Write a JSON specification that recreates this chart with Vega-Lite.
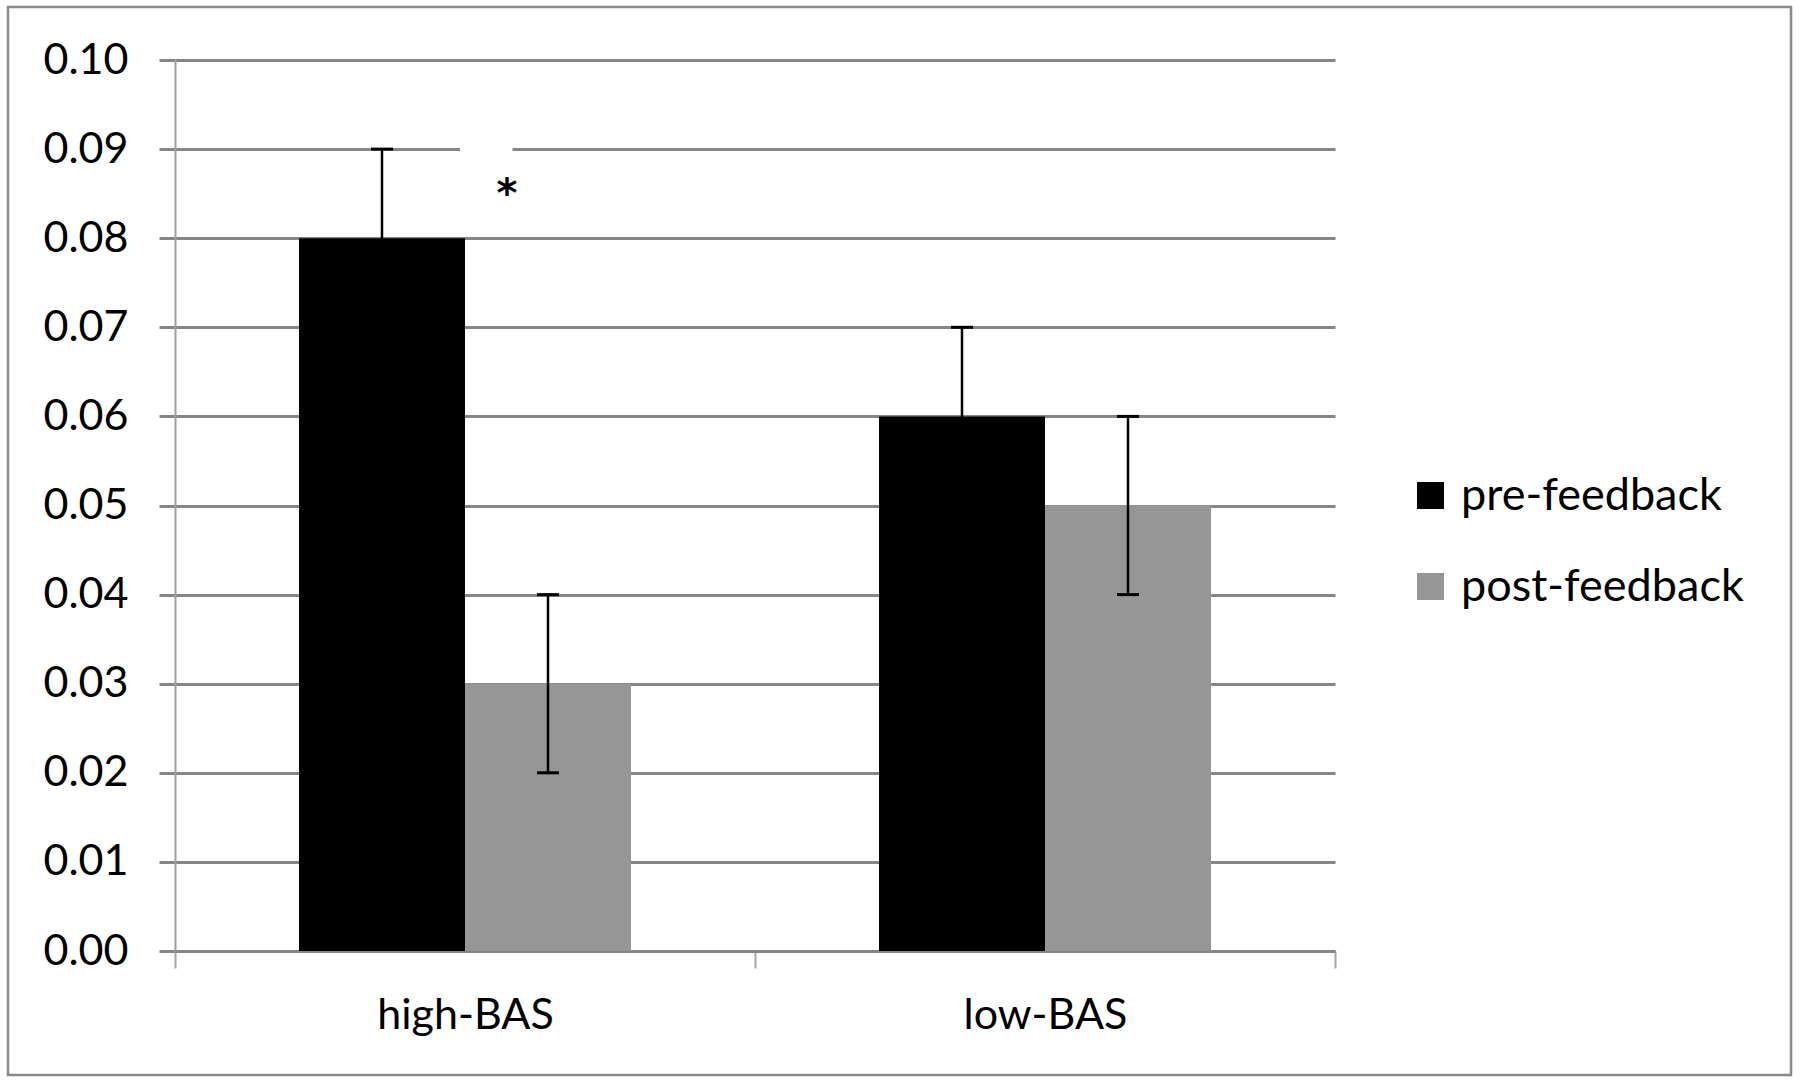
{
  "$schema": "https://vega.github.io/schema/vega-lite/v6.json",
  "width": 1783,
  "height": 1068,
  "autosize": {"type": "none"},
  "padding": {"left": 8, "top": 7, "right": 9, "bottom": 8},
  "background": "#ffffff",
  "datasets": {
    "bars": [
      {"group": "high-BAS", "phase": "pre-feedback", "mean": 0.08, "lo": 0.07, "hi": 0.09},
      {"group": "high-BAS", "phase": "post-feedback", "mean": 0.03, "lo": 0.02, "hi": 0.04},
      {"group": "low-BAS", "phase": "pre-feedback", "mean": 0.06, "lo": 0.05, "hi": 0.07},
      {"group": "low-BAS", "phase": "post-feedback", "mean": 0.05, "lo": 0.04, "hi": 0.06}
    ],
    "marks": [
      {"group": "high-BAS", "label": "*", "gridline": 0.09, "pos": 0.0835}
    ]
  },
  "layer": [
    {
      "data": {"name": "bars"},
      "mark": {"type": "bar", "stroke": null},
      "encoding": {
        "x": {"field": "group", "type": "nominal", "sort": ["high-BAS", "low-BAS"]},
        "xOffset": {"field": "phase", "type": "nominal", "scale": {"domain": ["pre-feedback", "post-feedback"], "paddingInner": 0, "paddingOuter": 0.747}},
        "y": {"field": "mean", "type": "quantitative"},
        "color": {
          "field": "phase", "type": "nominal",
          "scale": {"domain": ["pre-feedback", "post-feedback"], "range": ["#000000", "#969696"]},
          "legend": {
            "title": null, "orient": "none", "legendX": 1400, "legendY": 466, "padding": 0,
            "symbolType": "square", "symbolSize": 729, "symbolStrokeWidth": 0,
            "labelFont": "Lato", "labelFontSize": 45, "labelColor": "#000000", "labelLimit": 600,
            "labelOffset": 8, "rowPadding": 45
          }
        }
      }
    },
    {
      "data": {"name": "bars"},
      "mark": {"type": "rule", "color": "#000000", "strokeWidth": 2.5},
      "encoding": {
        "x": {"field": "group", "type": "nominal"},
        "xOffset": {"field": "phase", "type": "nominal"},
        "y": {"field": "lo", "type": "quantitative"},
        "y2": {"field": "hi"}
      }
    },
    {
      "data": {"name": "bars"},
      "mark": {"type": "tick", "color": "#000000", "size": 22, "thickness": 3, "opacity": 1},
      "encoding": {
        "x": {"field": "group", "type": "nominal"},
        "xOffset": {"field": "phase", "type": "nominal"},
        "y": {"field": "hi", "type": "quantitative"}
      }
    },
    {
      "data": {"name": "bars"},
      "mark": {"type": "tick", "color": "#000000", "size": 22, "thickness": 3, "opacity": 1},
      "encoding": {
        "x": {"field": "group", "type": "nominal"},
        "xOffset": {"field": "phase", "type": "nominal"},
        "y": {"field": "lo", "type": "quantitative"}
      }
    },
    {
      "data": {"name": "marks"},
      "mark": {"type": "point", "filled": true, "color": "#ffffff", "opacity": 1, "strokeWidth": 0, "size": 11025, "shape": "M-0.095,-0.1H0.905V0.1H-0.095Z"},
      "encoding": {
        "x": {"field": "group", "type": "nominal"},
        "y": {"field": "gridline", "type": "quantitative"}
      }
    },
    {
      "data": {"name": "marks"},
      "mark": {"type": "text", "font": "DejaVu Sans", "fontSize": 40, "fontWeight": "bold", "color": "#000000", "dx": 42, "baseline": "alphabetic", "align": "center"},
      "encoding": {
        "x": {"field": "group", "type": "nominal"},
        "y": {"field": "pos", "type": "quantitative"},
        "text": {"field": "label"}
      }
    }
  ],
  "resolve": {"scale": {"x": "shared", "y": "shared"}},
  "encoding": {
    "x": {
      "field": "group", "type": "nominal", "title": null,
      "scale": {"domain": ["high-BAS", "low-BAS"], "range": [167, 1327], "paddingInner": 0, "paddingOuter": 0},
      "axis": {
        "orient": "bottom", "offset": -124, "tickBand": "extent",
        "labelAngle": 0, "labelFont": "Lato", "labelFontSize": 43, "labelColor": "#000000", "labelPadding": 26,
        "domainColor": "#868686", "domainWidth": 3,
        "tickColor": "#a6a6a6", "tickWidth": 2, "tickSize": 17,
        "grid": false
      }
    },
    "y": {
      "type": "quantitative", "title": null,
      "scale": {"domain": [0, 0.1], "range": [944, 53], "nice": false, "zero": true},
      "axis": {
        "orient": "left", "offset": -167,
        "values": [0, 0.01, 0.02, 0.03, 0.04, 0.05, 0.06, 0.07, 0.08, 0.09, 0.1],
        "format": ".2f",
        "labelFont": "Lato", "labelFontSize": 43, "labelColor": "#000000", "labelPadding": 31,
        "domainColor": "#a0a0a0", "domainWidth": 2,
        "tickColor": "#868686", "tickWidth": 3, "tickSize": 16,
        "grid": true, "gridColor": "#868686", "gridWidth": 3
      }
    }
  },
  "config": {
    "view": {"stroke": "#898989", "strokeWidth": 2.5},
    "axis": {"labelFontWeight": "normal"}
  }
}
